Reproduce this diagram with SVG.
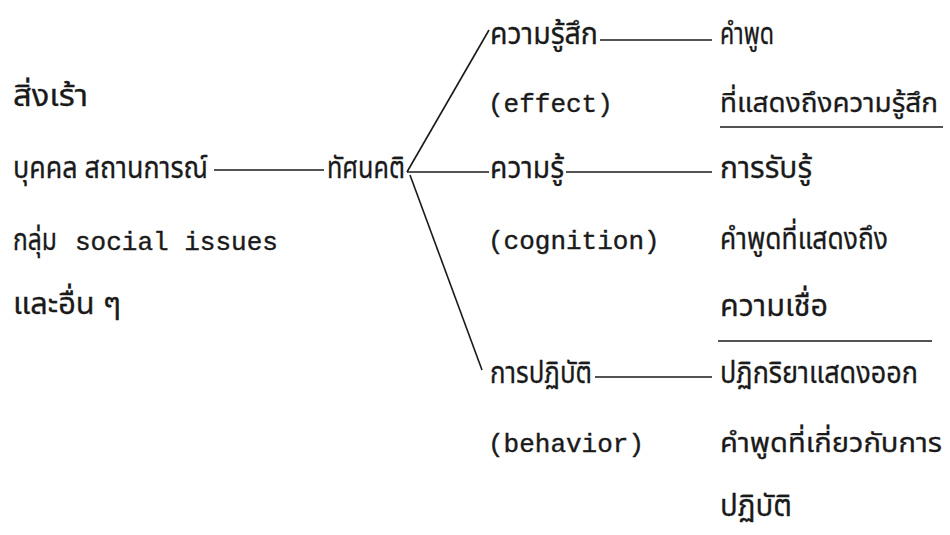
<svg xmlns="http://www.w3.org/2000/svg" width="950" height="535" viewBox="0 0 950 535">
<style>
.th{font-family:"Noto Sans Thai","Noto Sans","DejaVu Sans",sans-serif;font-size:30px;fill:#1a1a1a;stroke:#1a1a1a;stroke-width:0.3}
.en{font-family:"Liberation Mono","DejaVu Sans Mono",monospace;font-size:26px;fill:#1a1a1a;stroke:#1a1a1a;stroke-width:0.4}
.ln{stroke:#1a1a1a;stroke-width:1.6;fill:none}
.sm{font-size:27px}
</style>
<rect width="950" height="535" fill="#ffffff"/>
<g id="connectors">
<line class="ln" x1="214" y1="170" x2="324" y2="170"/>
<line class="ln" x1="407" y1="172" x2="489" y2="30"/>
<line class="ln" x1="407" y1="172" x2="489" y2="172"/>
<line class="ln" x1="410" y1="175" x2="482" y2="370"/>
<line class="ln" x1="600" y1="40" x2="712" y2="40"/>
<line class="ln" x1="566" y1="172" x2="712" y2="172"/>
<line class="ln" x1="595" y1="377" x2="712" y2="377"/>
<line class="ln" x1="720" y1="127" x2="943" y2="127"/>
<line class="ln" x1="718" y1="341" x2="932" y2="341"/>
</g>
<g id="stimulus">
<text class="th" x="13" y="106" textLength="75" lengthAdjust="spacingAndGlyphs">สิ่งเร้า</text>
<text class="th" x="13" y="178" textLength="195" lengthAdjust="spacingAndGlyphs">บุคคล สถานการณ์</text>
<text class="th" x="13" y="250" textLength="44" lengthAdjust="spacingAndGlyphs">กลุ่ม</text>
<text class="en" x="75" y="250">social issues</text>
<text class="th" x="13" y="314" textLength="108" lengthAdjust="spacingAndGlyphs">และอื่น ๆ</text>
</g>
<g id="attitude">
<text class="th" x="327" y="178" textLength="78" lengthAdjust="spacingAndGlyphs">ทัศนคติ</text>
</g>
<g id="affect">
<text class="th" x="490" y="44" textLength="108" lengthAdjust="spacingAndGlyphs">ความรู้สึก</text>
<text class="en" x="488" y="112">(effect)</text>
</g>
<g id="cognition">
<text class="th" x="490" y="178" textLength="74" lengthAdjust="spacingAndGlyphs">ความรู้</text>
<text class="en" x="488" y="249">(cognition)</text>
</g>
<g id="behavior">
<text class="th" x="490" y="383" textLength="102" lengthAdjust="spacingAndGlyphs">การปฏิบัติ</text>
<text class="en" x="488" y="452">(behavior)</text>
</g>
<g id="affect-expr">
<text class="th" x="720" y="44" textLength="54" lengthAdjust="spacingAndGlyphs">คำพูด</text>
<text class="th sm" x="720" y="112" textLength="218" lengthAdjust="spacingAndGlyphs">ที่แสดงถึงความรู้สึก</text>
</g>
<g id="cognition-expr">
<text class="th" x="720" y="178" textLength="92" lengthAdjust="spacingAndGlyphs">การรับรู้</text>
<text class="th" x="720" y="249" textLength="168" lengthAdjust="spacingAndGlyphs">คำพูดที่แสดงถึง</text>
<text class="th" x="720" y="316" textLength="108" lengthAdjust="spacingAndGlyphs">ความเชื่อ</text>
</g>
<g id="behavior-expr">
<text class="th" x="720" y="383" textLength="198" lengthAdjust="spacingAndGlyphs">ปฏิกริยาแสดงออก</text>
<text class="th sm" x="720" y="452" textLength="222" lengthAdjust="spacingAndGlyphs">คำพูดที่เกี่ยวกับการ</text>
<text class="th" x="720" y="516" textLength="72" lengthAdjust="spacingAndGlyphs">ปฏิบัติ</text>
</g>
</svg>
